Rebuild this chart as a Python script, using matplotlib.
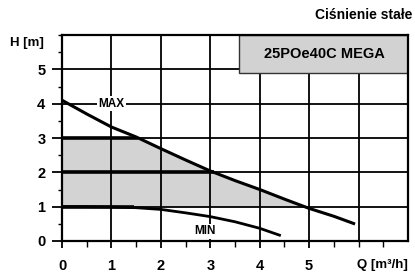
import matplotlib
matplotlib.use("Agg")
import matplotlib.pyplot as plt
import numpy as np
from matplotlib.patches import Rectangle

plt.rcParams['font.family'] = ['Liberation Sans', 'DejaVu Sans']

# Data
max_q = [0, 0.5, 1.0, 1.5, 2.0, 2.5, 3.0, 3.5, 4.0, 4.5, 5.0, 5.5, 5.9]
max_h = [4.10, 3.70, 3.32, 3.03, 2.69, 2.36, 2.04, 1.76, 1.50, 1.22, 0.95, 0.72, 0.51]
min_q = [0, 0.5, 1.0, 1.5, 2.0, 2.5, 3.0, 3.5, 4.0, 4.4]
min_h = [1.00, 1.00, 0.99, 0.97, 0.92, 0.82, 0.71, 0.56, 0.37, 0.17]
setpoints = [1, 2, 3]
x_ticks = [0, 1, 2, 3, 4, 5]
y_ticks = [0, 1, 2, 3, 4, 5]
title = "Ciśnienie stałe"
model = "25POe40C MEGA"

fig = plt.figure(figsize=(4.15, 2.75), dpi=100)
ax = fig.add_axes([62/415, 1-241/275, 346/415, 206/275])
ax.set_xlim(0, 7)
ax.set_ylim(0, 6)

# grid
for g in range(1, 7):
    ax.axvline(g, color='black', lw=1.3, zorder=1)
for g in range(1, 6):
    ax.axhline(g, color='black', lw=1.3, zorder=1)

# shaded region
mq = np.array(max_q)
mh = np.array(max_h)
qq = np.linspace(0, 5.0, 200)
top = np.minimum(np.interp(qq, mq, mh), 3)
ax.fill_between(qq, 1, top, where=top >= 1, color='#d3d3d3', zorder=0.5, lw=0)

# setpoint thick lines
for sp in setpoints:
    xe = np.interp(-sp, -mh, mq)
    if sp == 1:
        xe = 1.45
    ax.plot([0, xe], [sp, sp], color='black', lw=2.6, zorder=3, solid_capstyle='butt')

ax.plot(max_q, max_h, color='black', lw=2.2, zorder=4)
ax.plot(min_q, min_h, color='black', lw=2.0, zorder=4)

ax.text(1.0, 4.0, "MAX", fontsize=8.5, fontweight='bold', ha='center', va='center',
        bbox=dict(facecolor='white', edgecolor='none', pad=1.0), zorder=5)
ax.text(2.9, 0.28, "MIN", fontsize=8.5, fontweight='bold', ha='center', va='center',
        bbox=dict(facecolor='white', edgecolor='none', pad=1.0), zorder=5)

# model box
ax.add_patch(Rectangle((3.59, 4.88), 3.41, 1.12, facecolor='#d2d2d2', edgecolor='#333333',
                       lw=1.0, zorder=6))
ax.text(5.3, 5.44, model, fontsize=10.5, fontweight='bold', ha='center', va='center', zorder=7)

for s in ax.spines.values():
    s.set_linewidth(1.6)
    s.set_zorder(8)

ax.set_xticks(x_ticks)
ax.set_yticks(y_ticks)
ax.set_xticks(np.arange(0.5, 7, 0.5), minor=True)
ax.set_yticks(np.arange(0.5, 6.01, 0.5), minor=True)
ax.tick_params(axis='y', which='major', direction='out', length=7, width=1.3, pad=5,
               labelsize=10.5)
ax.tick_params(axis='y', which='minor', direction='out', length=3, width=1.0)
ax.tick_params(axis='x', which='major', direction='out', length=5, width=1.3, pad=8,
               labelsize=10.5)
ax.tick_params(axis='x', which='minor', direction='out', length=4, width=1.0)
for lab in ax.get_xticklabels() + ax.get_yticklabels():
    lab.set_fontweight('bold')

fig.text(27/415, 1-43/275, "H [m]", fontsize=9.5, fontweight='bold', ha='center', va='center')
fig.text(382/415, 1-265/275, "Q [m³/h]", fontsize=9.5, fontweight='bold', ha='center', va='center')
fig.text(412/415, 1-15/275, title, fontsize=10, fontweight='bold', ha='right', va='center')

fig.savefig("out.png", dpi=100)
